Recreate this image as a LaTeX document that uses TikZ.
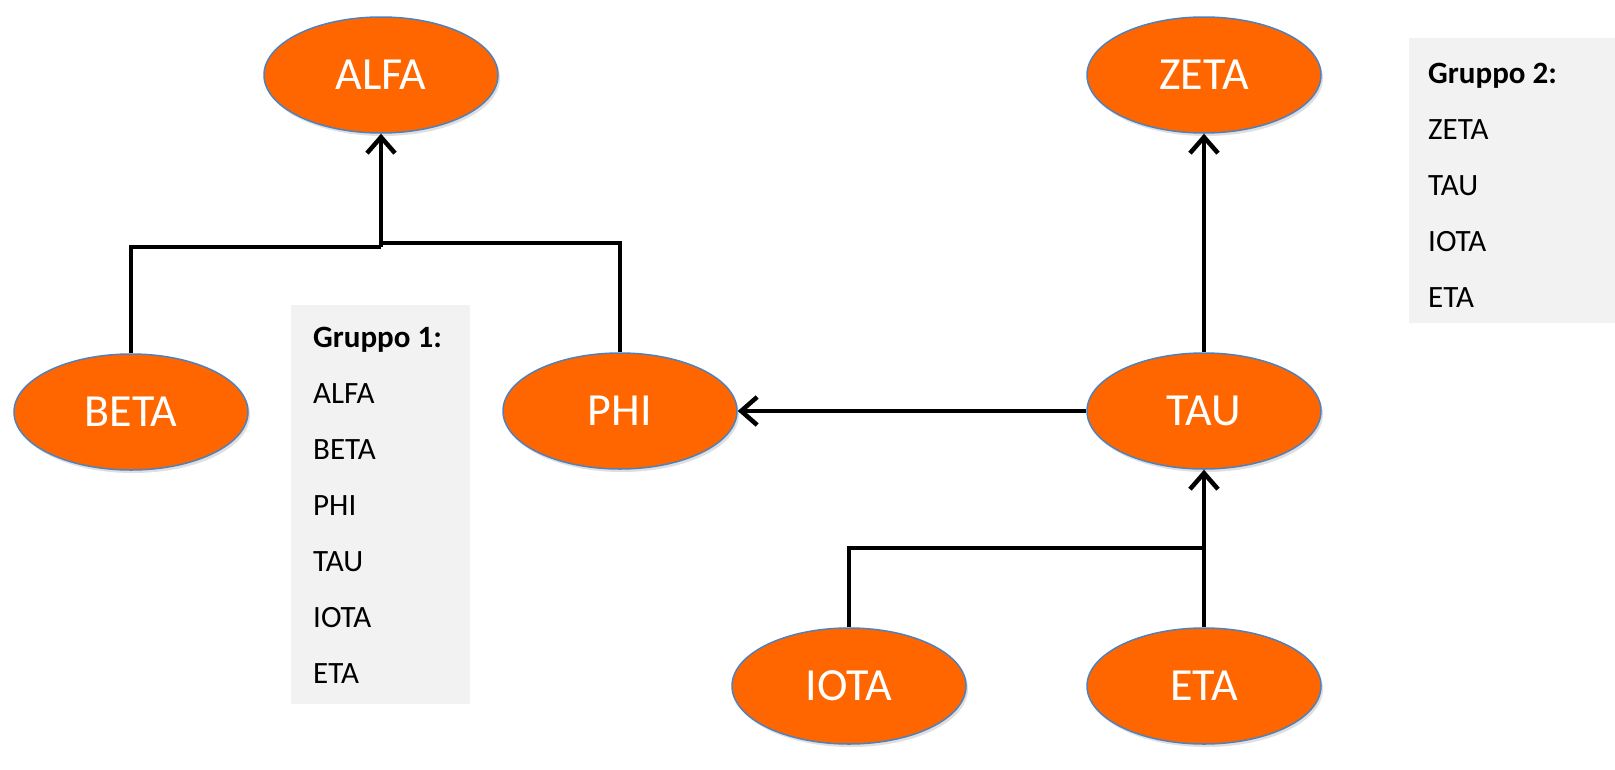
\documentclass[tikz,border=0pt]{standalone}
\usepackage{fontspec}
\setmainfont{Carlito}
\usetikzlibrary{shapes.geometric,arrows.meta,shadows}
\definecolor{ellfill}{HTML}{FF6600}
\definecolor{ellline}{HTML}{4F81BD}
\definecolor{boxfill}{HTML}{F2F2F2}
\begin{document}
\begin{tikzpicture}[x=1pt,y=-1pt,
  ent/.style={ellipse,draw=ellline,line width=1.5pt,fill=ellfill,
    minimum width=234pt,minimum height=116pt,inner sep=0pt,
    text=white,font=\fontsize{46}{50}\selectfont,
    drop shadow={shadow xshift=2pt,shadow yshift=-3pt,opacity=0.25}},
  conn/.style={line width=4.5pt,black},
  arr/.style={conn,-{Straight Barb[length=16pt,width=28pt,line width=4.5pt]}},
  grp/.style={fill=boxfill,draw=none},
  lst/.style={anchor=base west,inner sep=0pt,font=\fontsize{31}{34}\selectfont},
  lsth/.style={lst,font=\fontsize{31}{34}\selectfont\bfseries}]
\useasboundingbox (0,0) rectangle (1615,769);
\fill[white] (0,0) rectangle (1615,769);
% group boxes
\fill[grp] (291,305) rectangle (470,704);
\fill[grp] (1409,38) rectangle (1615,323);
\node[lsth] (g1) at (313,347) {Gruppo 1:};
\node[lst] (g1a) at (313,403) {ALFA};
\node[lst] (g1b) at (313,459) {BETA};
\node[lst] (g1c) at (313,515) {PHI};
\node[lst] (g1d) at (313,571) {TAU};
\node[lst] (g1e) at (313,627) {IOTA};
\node[lst] (g1f) at (313,683) {ETA};
\node[lsth] (g2) at (1428,83) {Gruppo 2:};
\node[lst] (g2a) at (1428,139) {ZETA};
\node[lst] (g2b) at (1428,195) {TAU};
\node[lst] (g2c) at (1428,251) {IOTA};
\node[lst] (g2d) at (1428,307) {ETA};
% entities
\node[ent] (alfa) at (381,75) {ALFA};
\node[ent] (zeta) at (1204,75) {ZETA};
\node[ent] (beta) at (131,412) {BETA};
\node[ent] (phi) at (620,411) {PHI};
\node[ent] (tau) at (1204,411) {TAU};
\node[ent] (iota) at (849,686) {IOTA};
\node[ent] (eta) at (1204,686) {ETA};
% connectors
\coordinate (jb) at (131,247);
\coordinate (jp) at (620,243);
\coordinate (ja) at (381,247);
\coordinate (jap) at (381,243);
\coordinate (ji) at (849,548);
\coordinate (jt) at (1204,548);
\draw[conn] (beta.north) -- (jb) -- (ja);
\draw[conn] (phi.north) -- (jp) -- (jap);
\draw[arr] (ja) -- (alfa.south);
\draw[arr] (tau.west) -- (phi.east);
\draw[arr] (tau.north) -- (zeta.south);
\draw[conn] (iota.north) -- (ji) -- (jt);
\draw[arr] (eta.north) -- (tau.south);
\end{tikzpicture}
\end{document}
